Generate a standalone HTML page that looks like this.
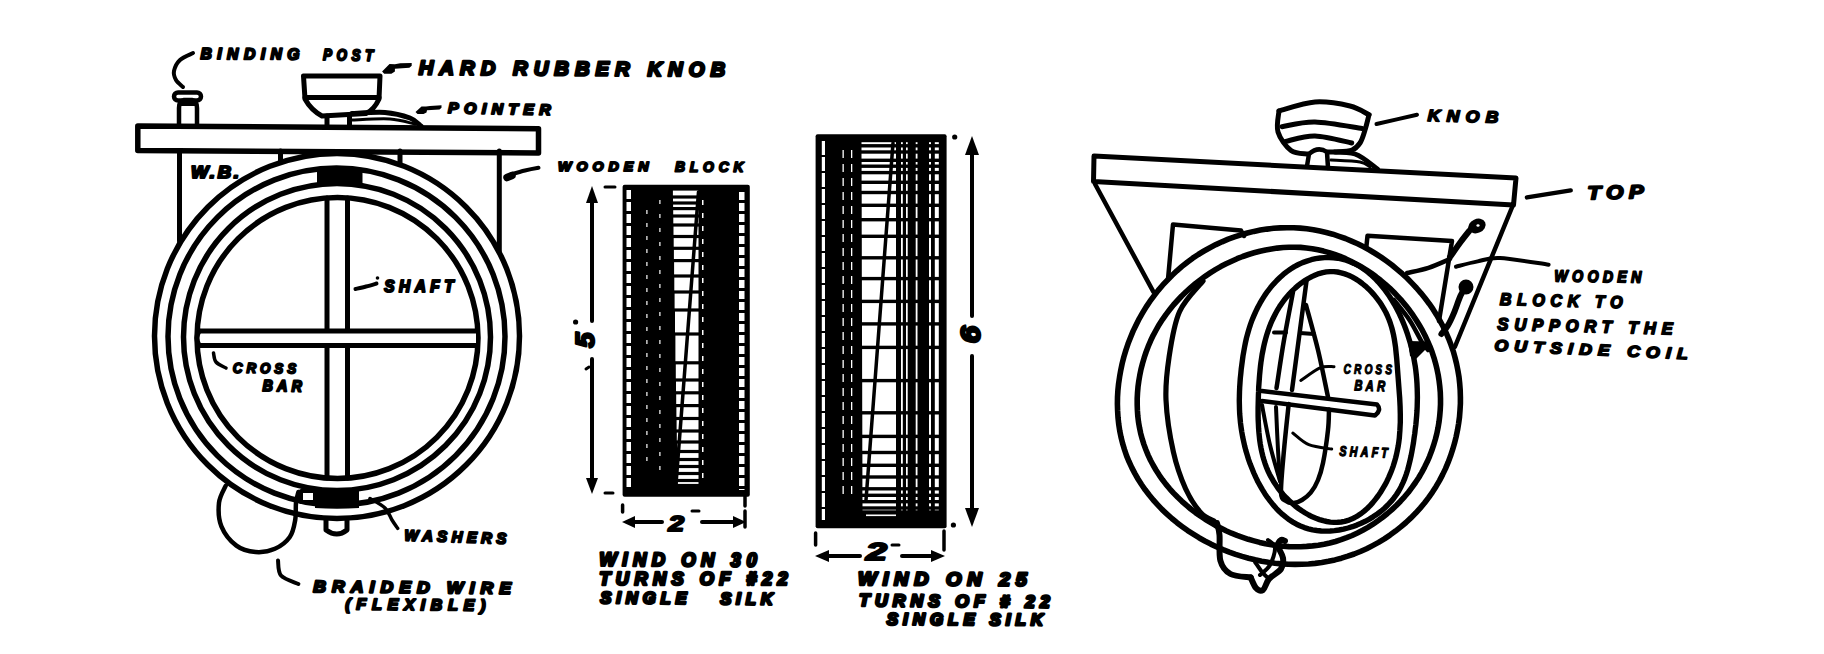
<!DOCTYPE html>
<html><head><meta charset="utf-8"><style>
html,body{margin:0;padding:0;background:#fff;}
svg{display:block;}
text{font-family:"Liberation Sans",sans-serif;font-weight:bold;font-style:italic;fill:#000;stroke:#000;stroke-linejoin:round;}
</style></head><body>
<svg width="1824" height="654" viewBox="0 0 1824 654">
<rect width="1824" height="654" fill="#fff"/>
<g fill="none" stroke="#000" stroke-linecap="round" stroke-linejoin="round">
<path d="M137.8,126 L538.5,128.8 L538.5,153 L137.8,150.6 Z" stroke-width="5.5"/>
<line x1="539.5" y1="130" x2="539.5" y2="152" stroke-width="3"/>
<line x1="179.5" y1="151" x2="179.5" y2="241" stroke-width="5"/>
<line x1="499.3" y1="151" x2="499.3" y2="251" stroke-width="5"/>
<line x1="280.5" y1="151" x2="280.5" y2="162" stroke-width="5"/>
<line x1="400" y1="151" x2="400" y2="163" stroke-width="5"/>
<circle cx="337" cy="336" r="182.5" stroke-width="5.5"/>
<circle cx="336.5" cy="336.5" r="168.5" stroke-width="5.5"/>
<circle cx="337" cy="337" r="153.5" stroke-width="5.5"/>
<circle cx="337.5" cy="338" r="140.5" stroke-width="5.5"/>
<line x1="327" y1="198" x2="327" y2="478" stroke-width="5"/>
<line x1="347.5" y1="198" x2="347.5" y2="478" stroke-width="5"/>
<rect x="199" y="331" width="277" height="14.5" fill="#fff" stroke="none"/>
<line x1="199" y1="331" x2="476" y2="331" stroke-width="5"/>
<line x1="199" y1="345.5" x2="476" y2="345.5" stroke-width="5"/>
<path d="M199,331 Q195,338 199,345.5" stroke-width="5"/>
<path d="M317,168 Q340,165 362.5,168 L362.5,185 Q340,183 317,185 Z" fill="#000" stroke-width="0"/>
<path d="M315,490 Q337,492 359,490 L359,508 Q337,509.5 315,508 Z" fill="#000" stroke-width="0"/>
<rect x="301" y="491" width="14" height="11" stroke-width="4" fill="#fff"/>
<path d="M326,520 L326,530 Q337,538 347,530 L347,520" stroke-width="5"/>
<path d="M225.7,485.7 C224.6,488.6 219.7,496.0 219.0,502.8 C218.3,509.6 218.5,519.2 221.4,526.3 C224.3,533.4 230.7,541.3 236.4,545.6 C242.1,549.9 249.2,551.5 255.6,552.0 C262.0,552.5 269.2,551.3 274.9,548.8 C280.6,546.3 286.4,541.8 289.8,537.0 C293.2,532.2 294.2,525.7 295.2,520.0 C296.2,514.3 295.5,507.5 296.0,502.8 C296.5,498.1 298.0,493.8 298.4,492.0" stroke-width="4.5" fill="none" />
<path d="M278.0,560.5 C278.5,563.0 277.6,571.6 281.0,575.5 C284.4,579.4 295.5,582.6 298.4,584.0" stroke-width="4" fill="none" />
<rect x="174" y="92.5" width="27" height="8" rx="4" stroke-width="4.5"/>
<path d="M179,124 L179,108 Q179,101 184,100 L192,100 Q197,101 197,108 L197,124" stroke-width="4.5"/>
<path d="M180,100 L196,100 L195,106 L181,106 Z" fill="#000" stroke-width="0"/>
<path d="M193.0,53.0 C190.8,54.2 183.2,57.0 180.0,60.0 C176.8,63.0 174.7,67.7 174.0,71.0 C173.3,74.3 174.5,77.3 176.0,80.0 C177.5,82.7 181.8,85.8 183.0,87.0" stroke-width="4" fill="none" />
<path d="M303.5,76 L380,76 L379,99 Q374,110 366,113.5 L322,116 Q311,110 305,99 Z" stroke-width="5"/>
<line x1="305" y1="97.5" x2="379" y2="97.5" stroke-width="5"/>
<path d="M327,116 L327,126 M349.5,116 L349.5,126" stroke-width="5"/>
<path d="M352.0,113.5 C357.5,113.3 375.3,111.8 385.0,112.5 C394.7,113.2 404.0,115.8 410.0,118.0 C416.0,120.2 419.2,124.7 421.0,126.0" stroke-width="5" fill="none" />
<path d="M352.0,120.0 C358.3,119.8 379.5,118.3 390.0,119.0 C400.5,119.7 410.8,123.2 415.0,124.0" stroke-width="3" fill="none" />
<path d="M382.1,71.4 L389.5,64 L394.9,64.2 L400.2,63.2 L411.7,63 L411.7,65.7 L409.4,67.8 L394.9,68.8 L394.9,71.4 L391.4,73.7 L384.2,73.7 Z" fill="#000" stroke-width="0"/>
<path d="M415.5,112 L421.5,106.5 L426,106.6 L430,106 L441.5,105.3 L441.5,107.8 L439.5,109.5 L427,110.3 L426.5,112.5 L423.5,114 L417.5,114 Z" fill="#000" stroke-width="0"/>
<path d="M507,177.5 L512,175.5" stroke-width="7.5"/>
<path d="M511.0,174.5 C513.3,173.8 520.4,171.6 525.0,170.5 C529.6,169.4 536.2,168.2 538.5,167.8" stroke-width="4" fill="none" />
<path d="M355.5,289.0 C357.2,288.6 362.5,287.4 366.0,286.5 C369.5,285.6 374.8,284.0 376.5,283.5" stroke-width="4" fill="none" />
<circle cx="377.5" cy="278" r="1.8" fill="#000" stroke="none"/>
<path d="M213.5,353.0 C213.9,354.5 213.9,359.5 216.0,362.0 C218.1,364.5 224.3,367.0 226.0,368.0" stroke-width="3.5" fill="none" />
<path d="M370.0,498.5 C372.5,500.1 381.3,504.4 385.0,508.0 C388.7,511.6 389.9,516.6 392.0,520.0 C394.1,523.4 396.8,527.0 397.7,528.4" stroke-width="3.5" fill="none" />
<rect x="622.6" y="184.7" width="127.2" height="312" rx="2" fill="#000" stroke="none"/>
<rect x="672.9" y="190.6" width="25.6" height="4.8" fill="#fff" stroke="none"/>
<rect x="673.0" y="198.6" width="25.5" height="2.8" fill="#fff" stroke="none"/>
<rect x="673.1" y="204.6" width="25.4" height="2.4" fill="#fff" stroke="none"/>
<rect x="673.2" y="210.2" width="25.3" height="4.2" fill="#fff" stroke="none"/>
<rect x="673.3" y="217.6" width="25.2" height="5.8" fill="#fff" stroke="none"/>
<rect x="673.5" y="226.6" width="25.0" height="8.3" fill="#fff" stroke="none"/>
<rect x="673.7" y="238.1" width="24.8" height="8.6" fill="#fff" stroke="none"/>
<rect x="673.9" y="249.9" width="24.6" height="9.1" fill="#fff" stroke="none"/>
<rect x="674.1" y="262.2" width="24.4" height="12.2" fill="#fff" stroke="none"/>
<rect x="674.3" y="277.6" width="24.2" height="12.8" fill="#fff" stroke="none"/>
<rect x="674.6" y="293.6" width="23.9" height="14.8" fill="#fff" stroke="none"/>
<rect x="675.0" y="311.6" width="23.5" height="20.8" fill="#fff" stroke="none"/>
<rect x="675.4" y="335.6" width="23.1" height="25.6" fill="#fff" stroke="none"/>
<rect x="675.8" y="364.4" width="22.7" height="14.0" fill="#fff" stroke="none"/>
<rect x="676.0" y="381.6" width="22.5" height="9.6" fill="#fff" stroke="none"/>
<rect x="676.2" y="394.4" width="22.3" height="9.6" fill="#fff" stroke="none"/>
<rect x="676.4" y="407.2" width="22.1" height="9.7" fill="#fff" stroke="none"/>
<rect x="676.6" y="420.1" width="21.9" height="9.3" fill="#fff" stroke="none"/>
<rect x="676.8" y="432.6" width="21.7" height="7.8" fill="#fff" stroke="none"/>
<rect x="677.0" y="443.6" width="21.5" height="6.3" fill="#fff" stroke="none"/>
<rect x="677.1" y="453.1" width="21.4" height="4.8" fill="#fff" stroke="none"/>
<rect x="677.2" y="461.1" width="21.3" height="3.8" fill="#fff" stroke="none"/>
<rect x="677.3" y="468.1" width="21.2" height="3.8" fill="#fff" stroke="none"/>
<rect x="677.5" y="475.1" width="21.0" height="3.8" fill="#fff" stroke="none"/>
<rect x="677.6" y="482.1" width="20.9" height="1.8" fill="#fff" stroke="none"/>
<rect x="626.5" y="190.0" width="4.5" height="9.0" fill="#fff" stroke="none"/>
<rect x="626.5" y="202.0" width="4.5" height="9.0" fill="#fff" stroke="none"/>
<rect x="626.5" y="214.0" width="4.5" height="9.0" fill="#fff" stroke="none"/>
<rect x="626.5" y="226.0" width="4.5" height="9.0" fill="#fff" stroke="none"/>
<rect x="626.5" y="238.0" width="4.5" height="9.0" fill="#fff" stroke="none"/>
<rect x="626.5" y="250.0" width="4.5" height="9.0" fill="#fff" stroke="none"/>
<rect x="626.5" y="262.0" width="4.5" height="9.0" fill="#fff" stroke="none"/>
<rect x="626.5" y="274.0" width="4.5" height="9.0" fill="#fff" stroke="none"/>
<rect x="626.5" y="286.0" width="4.5" height="9.0" fill="#fff" stroke="none"/>
<rect x="626.5" y="298.0" width="4.5" height="9.0" fill="#fff" stroke="none"/>
<rect x="626.5" y="310.0" width="4.5" height="9.0" fill="#fff" stroke="none"/>
<rect x="626.5" y="322.0" width="4.5" height="9.0" fill="#fff" stroke="none"/>
<rect x="626.5" y="334.0" width="4.5" height="9.0" fill="#fff" stroke="none"/>
<rect x="626.5" y="346.0" width="4.5" height="9.0" fill="#fff" stroke="none"/>
<rect x="626.5" y="358.0" width="4.5" height="9.0" fill="#fff" stroke="none"/>
<rect x="626.5" y="370.0" width="4.5" height="9.0" fill="#fff" stroke="none"/>
<rect x="626.5" y="382.0" width="4.5" height="9.0" fill="#fff" stroke="none"/>
<rect x="626.5" y="394.0" width="4.5" height="9.0" fill="#fff" stroke="none"/>
<rect x="626.5" y="406.0" width="4.5" height="9.0" fill="#fff" stroke="none"/>
<rect x="626.5" y="418.0" width="4.5" height="9.0" fill="#fff" stroke="none"/>
<rect x="626.5" y="430.0" width="4.5" height="9.0" fill="#fff" stroke="none"/>
<rect x="626.5" y="442.0" width="4.5" height="9.0" fill="#fff" stroke="none"/>
<rect x="626.5" y="454.0" width="4.5" height="9.0" fill="#fff" stroke="none"/>
<rect x="626.5" y="466.0" width="4.5" height="9.0" fill="#fff" stroke="none"/>
<rect x="626.5" y="478.0" width="4.5" height="9.0" fill="#fff" stroke="none"/>
<rect x="739.0" y="192.0" width="5.5" height="8.0" fill="#fff" stroke="none"/>
<rect x="739.0" y="203.0" width="5.5" height="8.0" fill="#fff" stroke="none"/>
<rect x="739.0" y="214.0" width="5.5" height="8.0" fill="#fff" stroke="none"/>
<rect x="739.0" y="225.0" width="5.5" height="8.0" fill="#fff" stroke="none"/>
<rect x="739.0" y="236.0" width="5.5" height="8.0" fill="#fff" stroke="none"/>
<rect x="739.0" y="247.0" width="5.5" height="8.0" fill="#fff" stroke="none"/>
<rect x="739.0" y="258.0" width="5.5" height="8.0" fill="#fff" stroke="none"/>
<rect x="739.0" y="269.0" width="5.5" height="8.0" fill="#fff" stroke="none"/>
<rect x="739.0" y="280.0" width="5.5" height="8.0" fill="#fff" stroke="none"/>
<rect x="739.0" y="291.0" width="5.5" height="8.0" fill="#fff" stroke="none"/>
<rect x="739.0" y="302.0" width="5.5" height="8.0" fill="#fff" stroke="none"/>
<rect x="739.0" y="313.0" width="5.5" height="8.0" fill="#fff" stroke="none"/>
<rect x="739.0" y="324.0" width="5.5" height="8.0" fill="#fff" stroke="none"/>
<rect x="739.0" y="335.0" width="5.5" height="8.0" fill="#fff" stroke="none"/>
<rect x="739.0" y="346.0" width="5.5" height="8.0" fill="#fff" stroke="none"/>
<rect x="739.0" y="357.0" width="5.5" height="8.0" fill="#fff" stroke="none"/>
<rect x="739.0" y="368.0" width="5.5" height="8.0" fill="#fff" stroke="none"/>
<rect x="739.0" y="379.0" width="5.5" height="8.0" fill="#fff" stroke="none"/>
<rect x="739.0" y="390.0" width="5.5" height="8.0" fill="#fff" stroke="none"/>
<rect x="739.0" y="401.0" width="5.5" height="8.0" fill="#fff" stroke="none"/>
<rect x="739.0" y="412.0" width="5.5" height="8.0" fill="#fff" stroke="none"/>
<rect x="739.0" y="423.0" width="5.5" height="8.0" fill="#fff" stroke="none"/>
<rect x="739.0" y="434.0" width="5.5" height="8.0" fill="#fff" stroke="none"/>
<rect x="739.0" y="445.0" width="5.5" height="8.0" fill="#fff" stroke="none"/>
<rect x="739.0" y="456.0" width="5.5" height="8.0" fill="#fff" stroke="none"/>
<rect x="739.0" y="467.0" width="5.5" height="8.0" fill="#fff" stroke="none"/>
<rect x="739.0" y="478.0" width="5.5" height="8.0" fill="#fff" stroke="none"/>
<rect x="739.0" y="489.0" width="5.5" height="1.0" fill="#fff" stroke="none"/>
<rect x="646.3" y="210.0" width="1.2" height="4.0" fill="#fff" stroke="none"/>
<rect x="646.3" y="223.0" width="1.2" height="4.0" fill="#fff" stroke="none"/>
<rect x="646.3" y="236.0" width="1.2" height="4.0" fill="#fff" stroke="none"/>
<rect x="646.3" y="249.0" width="1.2" height="4.0" fill="#fff" stroke="none"/>
<rect x="646.3" y="262.0" width="1.2" height="4.0" fill="#fff" stroke="none"/>
<rect x="646.3" y="275.0" width="1.2" height="4.0" fill="#fff" stroke="none"/>
<rect x="646.3" y="288.0" width="1.2" height="4.0" fill="#fff" stroke="none"/>
<rect x="646.3" y="301.0" width="1.2" height="4.0" fill="#fff" stroke="none"/>
<rect x="646.3" y="314.0" width="1.2" height="4.0" fill="#fff" stroke="none"/>
<rect x="646.3" y="327.0" width="1.2" height="4.0" fill="#fff" stroke="none"/>
<rect x="646.3" y="340.0" width="1.2" height="4.0" fill="#fff" stroke="none"/>
<rect x="646.3" y="353.0" width="1.2" height="4.0" fill="#fff" stroke="none"/>
<rect x="646.3" y="366.0" width="1.2" height="4.0" fill="#fff" stroke="none"/>
<rect x="646.3" y="379.0" width="1.2" height="4.0" fill="#fff" stroke="none"/>
<rect x="646.3" y="392.0" width="1.2" height="4.0" fill="#fff" stroke="none"/>
<rect x="646.3" y="405.0" width="1.2" height="4.0" fill="#fff" stroke="none"/>
<rect x="646.3" y="418.0" width="1.2" height="4.0" fill="#fff" stroke="none"/>
<rect x="646.3" y="431.0" width="1.2" height="4.0" fill="#fff" stroke="none"/>
<rect x="646.3" y="444.0" width="1.2" height="4.0" fill="#fff" stroke="none"/>
<rect x="646.3" y="457.0" width="1.2" height="4.0" fill="#fff" stroke="none"/>
<rect x="659.3" y="200.0" width="1.2" height="4.0" fill="#fff" stroke="none"/>
<rect x="659.3" y="214.0" width="1.2" height="4.0" fill="#fff" stroke="none"/>
<rect x="659.3" y="228.0" width="1.2" height="4.0" fill="#fff" stroke="none"/>
<rect x="659.3" y="242.0" width="1.2" height="4.0" fill="#fff" stroke="none"/>
<rect x="659.3" y="256.0" width="1.2" height="4.0" fill="#fff" stroke="none"/>
<rect x="659.3" y="270.0" width="1.2" height="4.0" fill="#fff" stroke="none"/>
<rect x="659.3" y="284.0" width="1.2" height="4.0" fill="#fff" stroke="none"/>
<rect x="659.3" y="298.0" width="1.2" height="4.0" fill="#fff" stroke="none"/>
<rect x="659.3" y="312.0" width="1.2" height="4.0" fill="#fff" stroke="none"/>
<rect x="659.3" y="326.0" width="1.2" height="4.0" fill="#fff" stroke="none"/>
<rect x="659.3" y="340.0" width="1.2" height="4.0" fill="#fff" stroke="none"/>
<rect x="659.3" y="354.0" width="1.2" height="4.0" fill="#fff" stroke="none"/>
<rect x="659.3" y="368.0" width="1.2" height="4.0" fill="#fff" stroke="none"/>
<rect x="659.3" y="382.0" width="1.2" height="4.0" fill="#fff" stroke="none"/>
<rect x="659.3" y="396.0" width="1.2" height="4.0" fill="#fff" stroke="none"/>
<rect x="659.3" y="410.0" width="1.2" height="4.0" fill="#fff" stroke="none"/>
<rect x="659.3" y="424.0" width="1.2" height="4.0" fill="#fff" stroke="none"/>
<rect x="659.3" y="438.0" width="1.2" height="4.0" fill="#fff" stroke="none"/>
<rect x="659.3" y="452.0" width="1.2" height="4.0" fill="#fff" stroke="none"/>
<rect x="659.3" y="466.0" width="1.2" height="4.0" fill="#fff" stroke="none"/>
<rect x="702.0" y="200.0" width="1.5" height="5.0" fill="#fff" stroke="none"/>
<rect x="702.0" y="213.0" width="1.5" height="5.0" fill="#fff" stroke="none"/>
<rect x="702.0" y="226.0" width="1.5" height="5.0" fill="#fff" stroke="none"/>
<rect x="702.0" y="239.0" width="1.5" height="5.0" fill="#fff" stroke="none"/>
<rect x="702.0" y="252.0" width="1.5" height="5.0" fill="#fff" stroke="none"/>
<rect x="702.0" y="265.0" width="1.5" height="5.0" fill="#fff" stroke="none"/>
<rect x="702.0" y="278.0" width="1.5" height="5.0" fill="#fff" stroke="none"/>
<rect x="702.0" y="291.0" width="1.5" height="5.0" fill="#fff" stroke="none"/>
<rect x="702.0" y="304.0" width="1.5" height="5.0" fill="#fff" stroke="none"/>
<rect x="702.0" y="317.0" width="1.5" height="5.0" fill="#fff" stroke="none"/>
<rect x="702.0" y="330.0" width="1.5" height="5.0" fill="#fff" stroke="none"/>
<rect x="702.0" y="343.0" width="1.5" height="5.0" fill="#fff" stroke="none"/>
<rect x="702.0" y="356.0" width="1.5" height="5.0" fill="#fff" stroke="none"/>
<rect x="702.0" y="369.0" width="1.5" height="5.0" fill="#fff" stroke="none"/>
<rect x="702.0" y="382.0" width="1.5" height="5.0" fill="#fff" stroke="none"/>
<rect x="702.0" y="395.0" width="1.5" height="5.0" fill="#fff" stroke="none"/>
<rect x="702.0" y="408.0" width="1.5" height="5.0" fill="#fff" stroke="none"/>
<rect x="702.0" y="421.0" width="1.5" height="5.0" fill="#fff" stroke="none"/>
<rect x="702.0" y="434.0" width="1.5" height="5.0" fill="#fff" stroke="none"/>
<rect x="702.0" y="447.0" width="1.5" height="5.0" fill="#fff" stroke="none"/>
<rect x="702.0" y="460.0" width="1.5" height="5.0" fill="#fff" stroke="none"/>
<rect x="702.0" y="473.0" width="1.5" height="5.0" fill="#fff" stroke="none"/>
<line x1="698.5" y1="192" x2="676" y2="484" stroke-width="3.5"/>
<rect x="815.6" y="134.3" width="131" height="394" rx="2" fill="#000" stroke="none"/>
<rect x="861.5" y="142.2" width="34.5" height="1.9" fill="#fff" stroke="none"/>
<rect x="901.0" y="142.2" width="1.8" height="1.9" fill="#fff" stroke="none"/>
<rect x="906.0" y="142.2" width="1.7" height="1.9" fill="#fff" stroke="none"/>
<rect x="915.7" y="142.2" width="1.8" height="1.9" fill="#fff" stroke="none"/>
<rect x="929.0" y="142.2" width="2.0" height="1.9" fill="#fff" stroke="none"/>
<rect x="934.8" y="142.2" width="4.0" height="1.9" fill="#fff" stroke="none"/>
<rect x="861.5" y="147.5" width="34.5" height="2.8" fill="#fff" stroke="none"/>
<rect x="901.0" y="147.5" width="1.8" height="2.8" fill="#fff" stroke="none"/>
<rect x="906.0" y="147.5" width="1.7" height="2.8" fill="#fff" stroke="none"/>
<rect x="915.7" y="147.5" width="1.8" height="2.8" fill="#fff" stroke="none"/>
<rect x="929.0" y="147.5" width="2.0" height="2.8" fill="#fff" stroke="none"/>
<rect x="934.8" y="147.5" width="4.0" height="2.8" fill="#fff" stroke="none"/>
<rect x="861.5" y="153.7" width="34.5" height="4.9" fill="#fff" stroke="none"/>
<rect x="901.0" y="153.7" width="1.8" height="4.9" fill="#fff" stroke="none"/>
<rect x="906.0" y="153.7" width="1.7" height="4.9" fill="#fff" stroke="none"/>
<rect x="915.7" y="153.7" width="1.8" height="4.9" fill="#fff" stroke="none"/>
<rect x="929.0" y="153.7" width="2.0" height="4.9" fill="#fff" stroke="none"/>
<rect x="934.8" y="153.7" width="4.0" height="4.9" fill="#fff" stroke="none"/>
<rect x="861.6" y="162.0" width="34.4" height="2.5" fill="#fff" stroke="none"/>
<rect x="901.0" y="162.0" width="1.8" height="2.5" fill="#fff" stroke="none"/>
<rect x="906.0" y="162.0" width="1.7" height="2.5" fill="#fff" stroke="none"/>
<rect x="915.7" y="162.0" width="1.8" height="2.5" fill="#fff" stroke="none"/>
<rect x="929.0" y="162.0" width="2.0" height="2.5" fill="#fff" stroke="none"/>
<rect x="934.8" y="162.0" width="4.0" height="2.5" fill="#fff" stroke="none"/>
<rect x="861.6" y="167.9" width="34.4" height="3.0" fill="#fff" stroke="none"/>
<rect x="901.0" y="167.9" width="1.8" height="3.0" fill="#fff" stroke="none"/>
<rect x="906.0" y="167.9" width="1.7" height="3.0" fill="#fff" stroke="none"/>
<rect x="915.7" y="167.9" width="1.8" height="3.0" fill="#fff" stroke="none"/>
<rect x="929.0" y="167.9" width="2.0" height="3.0" fill="#fff" stroke="none"/>
<rect x="934.8" y="167.9" width="4.0" height="3.0" fill="#fff" stroke="none"/>
<rect x="861.6" y="174.3" width="34.4" height="6.3" fill="#fff" stroke="none"/>
<rect x="901.0" y="174.3" width="1.8" height="6.3" fill="#fff" stroke="none"/>
<rect x="906.0" y="174.3" width="1.7" height="6.3" fill="#fff" stroke="none"/>
<rect x="915.7" y="174.3" width="1.8" height="6.3" fill="#fff" stroke="none"/>
<rect x="929.0" y="174.3" width="2.0" height="6.3" fill="#fff" stroke="none"/>
<rect x="934.8" y="174.3" width="4.0" height="6.3" fill="#fff" stroke="none"/>
<rect x="861.6" y="184.0" width="34.4" height="6.8" fill="#fff" stroke="none"/>
<rect x="901.0" y="184.0" width="1.8" height="6.8" fill="#fff" stroke="none"/>
<rect x="906.0" y="184.0" width="1.7" height="6.8" fill="#fff" stroke="none"/>
<rect x="915.7" y="184.0" width="1.8" height="6.8" fill="#fff" stroke="none"/>
<rect x="929.0" y="184.0" width="2.0" height="6.8" fill="#fff" stroke="none"/>
<rect x="934.8" y="184.0" width="4.0" height="6.8" fill="#fff" stroke="none"/>
<rect x="861.7" y="194.2" width="34.3" height="9.4" fill="#fff" stroke="none"/>
<rect x="901.0" y="194.2" width="1.8" height="9.4" fill="#fff" stroke="none"/>
<rect x="906.0" y="194.2" width="1.7" height="9.4" fill="#fff" stroke="none"/>
<rect x="915.7" y="194.2" width="1.8" height="9.4" fill="#fff" stroke="none"/>
<rect x="929.0" y="194.2" width="2.0" height="9.4" fill="#fff" stroke="none"/>
<rect x="934.8" y="194.2" width="4.0" height="9.4" fill="#fff" stroke="none"/>
<rect x="861.7" y="207.0" width="34.3" height="11.0" fill="#fff" stroke="none"/>
<rect x="901.0" y="207.0" width="1.8" height="11.0" fill="#fff" stroke="none"/>
<rect x="906.0" y="207.0" width="1.7" height="11.0" fill="#fff" stroke="none"/>
<rect x="915.7" y="207.0" width="1.8" height="11.0" fill="#fff" stroke="none"/>
<rect x="929.0" y="207.0" width="2.0" height="11.0" fill="#fff" stroke="none"/>
<rect x="934.8" y="207.0" width="4.0" height="11.0" fill="#fff" stroke="none"/>
<rect x="861.7" y="221.4" width="34.3" height="13.2" fill="#fff" stroke="none"/>
<rect x="901.0" y="221.4" width="1.8" height="13.2" fill="#fff" stroke="none"/>
<rect x="906.0" y="221.4" width="1.7" height="13.2" fill="#fff" stroke="none"/>
<rect x="915.7" y="221.4" width="1.8" height="13.2" fill="#fff" stroke="none"/>
<rect x="929.0" y="221.4" width="2.0" height="13.2" fill="#fff" stroke="none"/>
<rect x="934.8" y="221.4" width="4.0" height="13.2" fill="#fff" stroke="none"/>
<rect x="861.8" y="238.0" width="34.2" height="18.1" fill="#fff" stroke="none"/>
<rect x="901.0" y="238.0" width="1.8" height="18.1" fill="#fff" stroke="none"/>
<rect x="906.0" y="238.0" width="1.7" height="18.1" fill="#fff" stroke="none"/>
<rect x="915.7" y="238.0" width="1.8" height="18.1" fill="#fff" stroke="none"/>
<rect x="929.0" y="238.0" width="2.0" height="18.1" fill="#fff" stroke="none"/>
<rect x="934.8" y="238.0" width="4.0" height="18.1" fill="#fff" stroke="none"/>
<rect x="861.8" y="259.5" width="34.2" height="17.4" fill="#fff" stroke="none"/>
<rect x="901.0" y="259.5" width="1.8" height="17.4" fill="#fff" stroke="none"/>
<rect x="906.0" y="259.5" width="1.7" height="17.4" fill="#fff" stroke="none"/>
<rect x="915.7" y="259.5" width="1.8" height="17.4" fill="#fff" stroke="none"/>
<rect x="929.0" y="259.5" width="2.0" height="17.4" fill="#fff" stroke="none"/>
<rect x="934.8" y="259.5" width="4.0" height="17.4" fill="#fff" stroke="none"/>
<rect x="861.9" y="280.3" width="34.1" height="19.4" fill="#fff" stroke="none"/>
<rect x="901.0" y="280.3" width="1.8" height="19.4" fill="#fff" stroke="none"/>
<rect x="906.0" y="280.3" width="1.7" height="19.4" fill="#fff" stroke="none"/>
<rect x="915.7" y="280.3" width="1.8" height="19.4" fill="#fff" stroke="none"/>
<rect x="929.0" y="280.3" width="2.0" height="19.4" fill="#fff" stroke="none"/>
<rect x="934.8" y="280.3" width="4.0" height="19.4" fill="#fff" stroke="none"/>
<rect x="862.0" y="303.1" width="34.0" height="19.1" fill="#fff" stroke="none"/>
<rect x="901.0" y="303.1" width="1.8" height="19.1" fill="#fff" stroke="none"/>
<rect x="906.0" y="303.1" width="1.7" height="19.1" fill="#fff" stroke="none"/>
<rect x="915.7" y="303.1" width="1.8" height="19.1" fill="#fff" stroke="none"/>
<rect x="929.0" y="303.1" width="2.0" height="19.1" fill="#fff" stroke="none"/>
<rect x="934.8" y="303.1" width="4.0" height="19.1" fill="#fff" stroke="none"/>
<rect x="862.0" y="325.6" width="34.0" height="20.1" fill="#fff" stroke="none"/>
<rect x="901.0" y="325.6" width="1.8" height="20.1" fill="#fff" stroke="none"/>
<rect x="906.0" y="325.6" width="1.7" height="20.1" fill="#fff" stroke="none"/>
<rect x="915.7" y="325.6" width="1.8" height="20.1" fill="#fff" stroke="none"/>
<rect x="929.0" y="325.6" width="2.0" height="20.1" fill="#fff" stroke="none"/>
<rect x="934.8" y="325.6" width="4.0" height="20.1" fill="#fff" stroke="none"/>
<rect x="862.1" y="349.1" width="33.9" height="29.8" fill="#fff" stroke="none"/>
<rect x="901.0" y="349.1" width="1.8" height="29.8" fill="#fff" stroke="none"/>
<rect x="906.0" y="349.1" width="1.7" height="29.8" fill="#fff" stroke="none"/>
<rect x="915.7" y="349.1" width="1.8" height="29.8" fill="#fff" stroke="none"/>
<rect x="929.0" y="349.1" width="2.0" height="29.8" fill="#fff" stroke="none"/>
<rect x="934.8" y="349.1" width="4.0" height="29.8" fill="#fff" stroke="none"/>
<rect x="862.2" y="382.3" width="33.8" height="28.8" fill="#fff" stroke="none"/>
<rect x="901.0" y="382.3" width="1.8" height="28.8" fill="#fff" stroke="none"/>
<rect x="906.0" y="382.3" width="1.7" height="28.8" fill="#fff" stroke="none"/>
<rect x="915.7" y="382.3" width="1.8" height="28.8" fill="#fff" stroke="none"/>
<rect x="929.0" y="382.3" width="2.0" height="28.8" fill="#fff" stroke="none"/>
<rect x="934.8" y="382.3" width="4.0" height="28.8" fill="#fff" stroke="none"/>
<rect x="862.3" y="414.5" width="33.7" height="20.2" fill="#fff" stroke="none"/>
<rect x="901.0" y="414.5" width="1.8" height="20.2" fill="#fff" stroke="none"/>
<rect x="906.0" y="414.5" width="1.7" height="20.2" fill="#fff" stroke="none"/>
<rect x="915.7" y="414.5" width="1.8" height="20.2" fill="#fff" stroke="none"/>
<rect x="929.0" y="414.5" width="2.0" height="20.2" fill="#fff" stroke="none"/>
<rect x="934.8" y="414.5" width="4.0" height="20.2" fill="#fff" stroke="none"/>
<rect x="862.3" y="438.1" width="33.7" height="12.7" fill="#fff" stroke="none"/>
<rect x="901.0" y="438.1" width="1.8" height="12.7" fill="#fff" stroke="none"/>
<rect x="906.0" y="438.1" width="1.7" height="12.7" fill="#fff" stroke="none"/>
<rect x="915.7" y="438.1" width="1.8" height="12.7" fill="#fff" stroke="none"/>
<rect x="929.0" y="438.1" width="2.0" height="12.7" fill="#fff" stroke="none"/>
<rect x="934.8" y="438.1" width="4.0" height="12.7" fill="#fff" stroke="none"/>
<rect x="862.4" y="454.2" width="33.6" height="9.4" fill="#fff" stroke="none"/>
<rect x="901.0" y="454.2" width="1.8" height="9.4" fill="#fff" stroke="none"/>
<rect x="906.0" y="454.2" width="1.7" height="9.4" fill="#fff" stroke="none"/>
<rect x="915.7" y="454.2" width="1.8" height="9.4" fill="#fff" stroke="none"/>
<rect x="929.0" y="454.2" width="2.0" height="9.4" fill="#fff" stroke="none"/>
<rect x="934.8" y="454.2" width="4.0" height="9.4" fill="#fff" stroke="none"/>
<rect x="862.4" y="467.0" width="33.6" height="8.3" fill="#fff" stroke="none"/>
<rect x="901.0" y="467.0" width="1.8" height="8.3" fill="#fff" stroke="none"/>
<rect x="906.0" y="467.0" width="1.7" height="8.3" fill="#fff" stroke="none"/>
<rect x="915.7" y="467.0" width="1.8" height="8.3" fill="#fff" stroke="none"/>
<rect x="929.0" y="467.0" width="2.0" height="8.3" fill="#fff" stroke="none"/>
<rect x="934.8" y="467.0" width="4.0" height="8.3" fill="#fff" stroke="none"/>
<rect x="862.4" y="478.7" width="33.6" height="8.4" fill="#fff" stroke="none"/>
<rect x="901.0" y="478.7" width="1.8" height="8.4" fill="#fff" stroke="none"/>
<rect x="906.0" y="478.7" width="1.7" height="8.4" fill="#fff" stroke="none"/>
<rect x="915.7" y="478.7" width="1.8" height="8.4" fill="#fff" stroke="none"/>
<rect x="929.0" y="478.7" width="2.0" height="8.4" fill="#fff" stroke="none"/>
<rect x="934.8" y="478.7" width="4.0" height="8.4" fill="#fff" stroke="none"/>
<rect x="862.4" y="490.5" width="33.6" height="3.1" fill="#fff" stroke="none"/>
<rect x="901.0" y="490.5" width="1.8" height="3.1" fill="#fff" stroke="none"/>
<rect x="906.0" y="490.5" width="1.7" height="3.1" fill="#fff" stroke="none"/>
<rect x="915.7" y="490.5" width="1.8" height="3.1" fill="#fff" stroke="none"/>
<rect x="929.0" y="490.5" width="2.0" height="3.1" fill="#fff" stroke="none"/>
<rect x="934.8" y="490.5" width="4.0" height="3.1" fill="#fff" stroke="none"/>
<rect x="862.5" y="497.0" width="33.5" height="3.0" fill="#fff" stroke="none"/>
<rect x="901.0" y="497.0" width="1.8" height="3.0" fill="#fff" stroke="none"/>
<rect x="906.0" y="497.0" width="1.7" height="3.0" fill="#fff" stroke="none"/>
<rect x="915.7" y="497.0" width="1.8" height="3.0" fill="#fff" stroke="none"/>
<rect x="929.0" y="497.0" width="2.0" height="3.0" fill="#fff" stroke="none"/>
<rect x="934.8" y="497.0" width="4.0" height="3.0" fill="#fff" stroke="none"/>
<rect x="862.5" y="503.4" width="33.5" height="2.9" fill="#fff" stroke="none"/>
<rect x="901.0" y="503.4" width="1.8" height="2.9" fill="#fff" stroke="none"/>
<rect x="906.0" y="503.4" width="1.7" height="2.9" fill="#fff" stroke="none"/>
<rect x="915.7" y="503.4" width="1.8" height="2.9" fill="#fff" stroke="none"/>
<rect x="929.0" y="503.4" width="2.0" height="2.9" fill="#fff" stroke="none"/>
<rect x="934.8" y="503.4" width="4.0" height="2.9" fill="#fff" stroke="none"/>
<rect x="862.5" y="509.7" width="33.5" height="0.6" fill="#fff" stroke="none"/>
<rect x="901.0" y="509.7" width="1.8" height="0.6" fill="#fff" stroke="none"/>
<rect x="906.0" y="509.7" width="1.7" height="0.6" fill="#fff" stroke="none"/>
<rect x="915.7" y="509.7" width="1.8" height="0.6" fill="#fff" stroke="none"/>
<rect x="929.0" y="509.7" width="2.0" height="0.6" fill="#fff" stroke="none"/>
<rect x="934.8" y="509.7" width="4.0" height="0.6" fill="#fff" stroke="none"/>
<rect x="821.8" y="141.0" width="3.2" height="14.0" fill="#fff" stroke="none"/>
<rect x="821.8" y="157.0" width="3.2" height="14.0" fill="#fff" stroke="none"/>
<rect x="821.8" y="173.0" width="3.2" height="14.0" fill="#fff" stroke="none"/>
<rect x="821.8" y="189.0" width="3.2" height="14.0" fill="#fff" stroke="none"/>
<rect x="821.8" y="205.0" width="3.2" height="14.0" fill="#fff" stroke="none"/>
<rect x="821.8" y="221.0" width="3.2" height="14.0" fill="#fff" stroke="none"/>
<rect x="821.8" y="237.0" width="3.2" height="14.0" fill="#fff" stroke="none"/>
<rect x="821.8" y="253.0" width="3.2" height="14.0" fill="#fff" stroke="none"/>
<rect x="821.8" y="269.0" width="3.2" height="14.0" fill="#fff" stroke="none"/>
<rect x="821.8" y="285.0" width="3.2" height="14.0" fill="#fff" stroke="none"/>
<rect x="821.8" y="301.0" width="3.2" height="14.0" fill="#fff" stroke="none"/>
<rect x="821.8" y="317.0" width="3.2" height="14.0" fill="#fff" stroke="none"/>
<rect x="821.8" y="333.0" width="3.2" height="14.0" fill="#fff" stroke="none"/>
<rect x="821.8" y="349.0" width="3.2" height="14.0" fill="#fff" stroke="none"/>
<rect x="821.8" y="365.0" width="3.2" height="14.0" fill="#fff" stroke="none"/>
<rect x="821.8" y="381.0" width="3.2" height="14.0" fill="#fff" stroke="none"/>
<rect x="821.8" y="397.0" width="3.2" height="14.0" fill="#fff" stroke="none"/>
<rect x="821.8" y="413.0" width="3.2" height="14.0" fill="#fff" stroke="none"/>
<rect x="821.8" y="429.0" width="3.2" height="14.0" fill="#fff" stroke="none"/>
<rect x="821.8" y="445.0" width="3.2" height="14.0" fill="#fff" stroke="none"/>
<rect x="821.8" y="461.0" width="3.2" height="14.0" fill="#fff" stroke="none"/>
<rect x="821.8" y="477.0" width="3.2" height="14.0" fill="#fff" stroke="none"/>
<rect x="821.8" y="493.0" width="3.2" height="14.0" fill="#fff" stroke="none"/>
<rect x="821.8" y="509.0" width="3.2" height="11.0" fill="#fff" stroke="none"/>
<rect x="842.5" y="150.0" width="1.3" height="8.0" fill="#fff" stroke="none"/>
<rect x="842.5" y="164.0" width="1.3" height="8.0" fill="#fff" stroke="none"/>
<rect x="842.5" y="178.0" width="1.3" height="8.0" fill="#fff" stroke="none"/>
<rect x="842.5" y="192.0" width="1.3" height="8.0" fill="#fff" stroke="none"/>
<rect x="842.5" y="206.0" width="1.3" height="8.0" fill="#fff" stroke="none"/>
<rect x="842.5" y="220.0" width="1.3" height="8.0" fill="#fff" stroke="none"/>
<rect x="842.5" y="234.0" width="1.3" height="8.0" fill="#fff" stroke="none"/>
<rect x="842.5" y="248.0" width="1.3" height="8.0" fill="#fff" stroke="none"/>
<rect x="842.5" y="262.0" width="1.3" height="8.0" fill="#fff" stroke="none"/>
<rect x="842.5" y="276.0" width="1.3" height="8.0" fill="#fff" stroke="none"/>
<rect x="842.5" y="290.0" width="1.3" height="8.0" fill="#fff" stroke="none"/>
<rect x="842.5" y="304.0" width="1.3" height="8.0" fill="#fff" stroke="none"/>
<rect x="842.5" y="318.0" width="1.3" height="8.0" fill="#fff" stroke="none"/>
<rect x="842.5" y="332.0" width="1.3" height="8.0" fill="#fff" stroke="none"/>
<rect x="842.5" y="346.0" width="1.3" height="8.0" fill="#fff" stroke="none"/>
<rect x="842.5" y="360.0" width="1.3" height="8.0" fill="#fff" stroke="none"/>
<rect x="842.5" y="374.0" width="1.3" height="8.0" fill="#fff" stroke="none"/>
<rect x="842.5" y="388.0" width="1.3" height="8.0" fill="#fff" stroke="none"/>
<rect x="842.5" y="402.0" width="1.3" height="8.0" fill="#fff" stroke="none"/>
<rect x="842.5" y="416.0" width="1.3" height="8.0" fill="#fff" stroke="none"/>
<rect x="842.5" y="430.0" width="1.3" height="8.0" fill="#fff" stroke="none"/>
<rect x="842.5" y="444.0" width="1.3" height="8.0" fill="#fff" stroke="none"/>
<rect x="842.5" y="458.0" width="1.3" height="8.0" fill="#fff" stroke="none"/>
<rect x="842.5" y="472.0" width="1.3" height="8.0" fill="#fff" stroke="none"/>
<rect x="842.5" y="486.0" width="1.3" height="8.0" fill="#fff" stroke="none"/>
<rect x="851.0" y="150.0" width="1.3" height="8.0" fill="#fff" stroke="none"/>
<rect x="851.0" y="164.0" width="1.3" height="8.0" fill="#fff" stroke="none"/>
<rect x="851.0" y="178.0" width="1.3" height="8.0" fill="#fff" stroke="none"/>
<rect x="851.0" y="192.0" width="1.3" height="8.0" fill="#fff" stroke="none"/>
<rect x="851.0" y="206.0" width="1.3" height="8.0" fill="#fff" stroke="none"/>
<rect x="851.0" y="220.0" width="1.3" height="8.0" fill="#fff" stroke="none"/>
<rect x="851.0" y="234.0" width="1.3" height="8.0" fill="#fff" stroke="none"/>
<rect x="851.0" y="248.0" width="1.3" height="8.0" fill="#fff" stroke="none"/>
<rect x="851.0" y="262.0" width="1.3" height="8.0" fill="#fff" stroke="none"/>
<rect x="851.0" y="276.0" width="1.3" height="8.0" fill="#fff" stroke="none"/>
<rect x="851.0" y="290.0" width="1.3" height="8.0" fill="#fff" stroke="none"/>
<rect x="851.0" y="304.0" width="1.3" height="8.0" fill="#fff" stroke="none"/>
<rect x="851.0" y="318.0" width="1.3" height="8.0" fill="#fff" stroke="none"/>
<rect x="851.0" y="332.0" width="1.3" height="8.0" fill="#fff" stroke="none"/>
<rect x="851.0" y="346.0" width="1.3" height="8.0" fill="#fff" stroke="none"/>
<rect x="851.0" y="360.0" width="1.3" height="8.0" fill="#fff" stroke="none"/>
<rect x="851.0" y="374.0" width="1.3" height="8.0" fill="#fff" stroke="none"/>
<rect x="851.0" y="388.0" width="1.3" height="8.0" fill="#fff" stroke="none"/>
<rect x="851.0" y="402.0" width="1.3" height="8.0" fill="#fff" stroke="none"/>
<rect x="851.0" y="416.0" width="1.3" height="8.0" fill="#fff" stroke="none"/>
<rect x="851.0" y="430.0" width="1.3" height="8.0" fill="#fff" stroke="none"/>
<rect x="851.0" y="444.0" width="1.3" height="8.0" fill="#fff" stroke="none"/>
<rect x="851.0" y="458.0" width="1.3" height="8.0" fill="#fff" stroke="none"/>
<rect x="851.0" y="472.0" width="1.3" height="8.0" fill="#fff" stroke="none"/>
<rect x="851.0" y="486.0" width="1.3" height="8.0" fill="#fff" stroke="none"/>
<line x1="893" y1="143" x2="866" y2="500" stroke-width="3.5"/>
<rect x="866.0" y="514.5" width="30.0" height="1.6" fill="#fff" stroke="none"/>
<line x1="592" y1="197" x2="592" y2="321" stroke-width="4"/>
<line x1="592" y1="359" x2="592" y2="484" stroke-width="4"/>
<path d="M586,203 L592,186 L598,203 Z" fill="#000" stroke-width="0"/>
<path d="M586,478 L592,494 L598,478 Z" fill="#000" stroke-width="0"/>
<line x1="605" y1="187" x2="615" y2="187" stroke-width="3"/>
<line x1="605" y1="493" x2="613" y2="493" stroke-width="3"/>
<line x1="586" y1="369" x2="589" y2="367" stroke-width="3"/>
<circle cx="575.6" cy="322" r="2.6" fill="#000" stroke="none"/>
<line x1="622.6" y1="505" x2="622.6" y2="512" stroke-width="3.5"/>
<line x1="745" y1="492" x2="745" y2="506" stroke-width="3.5"/>
<line x1="745" y1="511" x2="745" y2="527" stroke-width="3.5"/>
<line x1="632" y1="522" x2="662" y2="522" stroke-width="4"/>
<line x1="702" y1="522" x2="736" y2="522" stroke-width="4"/>
<path d="M622,522 L635,516 L635,528 Z" fill="#000" stroke-width="0"/>
<path d="M746,522 L733,516 L733,528 Z" fill="#000" stroke-width="0"/>
<line x1="692" y1="511" x2="699" y2="511" stroke-width="3"/>
<line x1="972" y1="152" x2="972" y2="316" stroke-width="4"/>
<line x1="972" y1="356" x2="972" y2="510" stroke-width="4"/>
<path d="M965,155 L972,136 L979,155 Z" fill="#000" stroke-width="0"/>
<path d="M965,508 L972,527 L979,508 Z" fill="#000" stroke-width="0"/>
<circle cx="954.7" cy="137" r="2.6" fill="#000" stroke="none"/>
<circle cx="953.4" cy="525" r="2.6" fill="#000" stroke="none"/>
<line x1="815.6" y1="533" x2="815.6" y2="545" stroke-width="3.5"/>
<line x1="944" y1="531" x2="944" y2="550" stroke-width="3.5"/>
<line x1="824" y1="556" x2="860" y2="556" stroke-width="4"/>
<line x1="902" y1="556" x2="937" y2="556" stroke-width="4"/>
<path d="M815,556 L829,550 L829,562 Z" fill="#000" stroke-width="0"/>
<path d="M945,556 L931,550 L931,562 Z" fill="#000" stroke-width="0"/>
<line x1="892" y1="545" x2="899" y2="545" stroke-width="3"/>
<text x="200.5" y="59.0" font-size="15.9" letter-spacing="0.35em" textLength="104.4" lengthAdjust="spacingAndGlyphs" stroke-width="2.09" transform="rotate(0.28 199.5 60.0)">BINDING</text>
<text x="323.0" y="60.0" font-size="15.9" letter-spacing="0.35em" textLength="54.6" lengthAdjust="spacingAndGlyphs" stroke-width="2.09" transform="rotate(1.08 322.0 61.0)">POST</text>
<text x="418.7" y="74.5" font-size="20.0" letter-spacing="0.3em" textLength="312.5" lengthAdjust="spacingAndGlyphs" stroke-width="2.47" transform="rotate(0.35 417.5 75.7)">HARD RUBBER KNOB</text>
<text x="448.0" y="113.1" font-size="15.0" letter-spacing="0.35em" textLength="108.1" lengthAdjust="spacingAndGlyphs" stroke-width="2.09" transform="rotate(1.09 447.0 114.1)">POINTER</text>
<text x="558.0" y="171.1" font-size="13.4" letter-spacing="0.35em" textLength="95.5" lengthAdjust="spacingAndGlyphs" stroke-width="1.90">WOODEN</text>
<text x="675.0" y="171.6" font-size="14.1" letter-spacing="0.35em" textLength="73.3" lengthAdjust="spacingAndGlyphs" stroke-width="1.90" transform="rotate(0.24 674.0 172.5)">BLOCK</text>
<text x="191.0" y="177.8" font-size="15.9" letter-spacing="0.15em" textLength="50.6" lengthAdjust="spacingAndGlyphs" stroke-width="2.09">W.B.</text>
<text x="384.2" y="291.5" font-size="15.9" letter-spacing="0.3em" textLength="74.0" lengthAdjust="spacingAndGlyphs" stroke-width="2.09">SHAFT</text>
<text x="232.8" y="372.7" font-size="14.1" letter-spacing="0.3em" textLength="67.3" lengthAdjust="spacingAndGlyphs" stroke-width="1.90" transform="rotate(0.70 231.9 373.6)">CROSS</text>
<text x="262.4" y="391.1" font-size="15.9" letter-spacing="0.3em" textLength="43.8" lengthAdjust="spacingAndGlyphs" stroke-width="2.09" transform="rotate(0.55 261.4 392.1)">BAR</text>
<text x="404.2" y="540.4" font-size="15.3" letter-spacing="0.3em" textLength="106.4" lengthAdjust="spacingAndGlyphs" stroke-width="2.09" transform="rotate(1.98 403.2 541.4)">WASHERS</text>
<text x="313.3" y="591.9" font-size="16.4" letter-spacing="0.35em" textLength="203.7" lengthAdjust="spacingAndGlyphs" stroke-width="2.28" transform="rotate(0.57 312.2 593.0)">BRAIDED WIRE</text>
<text x="345.3" y="609.5" font-size="15.9" letter-spacing="0.35em" textLength="145.8" lengthAdjust="spacingAndGlyphs" stroke-width="2.09" transform="rotate(0.48 344.3 610.5)">(FLEXIBLE)</text>
<text x="599.3" y="565.7" font-size="19.3" letter-spacing="0.3em" textLength="162.9" lengthAdjust="spacingAndGlyphs" stroke-width="2.66" transform="rotate(0.36 598.0 567.0)">WIND ON 30</text>
<text x="599.3" y="585.2" font-size="18.0" letter-spacing="0.3em" textLength="193.8" lengthAdjust="spacingAndGlyphs" stroke-width="2.66">TURNS OF #22</text>
<text x="600.3" y="603.2" font-size="16.6" letter-spacing="0.3em" textLength="177.3" lengthAdjust="spacingAndGlyphs" stroke-width="2.66" transform="rotate(0.49 599.0 604.5)">SINGLE&#160;&#160;&#160;SILK</text>
<text x="858.1" y="585.1" font-size="18.7" letter-spacing="0.3em" textLength="174.7" lengthAdjust="spacingAndGlyphs" stroke-width="2.66" transform="rotate(0.27 856.8 586.4)">WIND ON 25</text>
<text x="859.0" y="606.1" font-size="17.3" letter-spacing="0.3em" textLength="195.9" lengthAdjust="spacingAndGlyphs" stroke-width="2.66" transform="rotate(0.47 857.7 607.4)">TURNS OF # 22</text>
<text x="886.7" y="624.7" font-size="16.6" letter-spacing="0.3em" textLength="161.3" lengthAdjust="spacingAndGlyphs" stroke-width="2.66" transform="rotate(0.25 885.4 626.0)">SINGLE SILK</text>
<text x="668.5" y="530.5" font-size="22.1" letter-spacing="0em" textLength="15.5" lengthAdjust="spacingAndGlyphs" stroke-width="2.09">2</text>
<text x="866.1" y="560.0" font-size="24.2" letter-spacing="0em" textLength="20.8" lengthAdjust="spacingAndGlyphs" stroke-width="2.09">2</text>
<text x="576.7" y="349.0" font-size="25.1" textLength="15.2" lengthAdjust="spacingAndGlyphs" stroke-width="2.47" transform="rotate(-90 584.5 340)">5</text>
<text x="961.8" y="344.3" font-size="27.1" textLength="17.3" lengthAdjust="spacingAndGlyphs" stroke-width="2.47" transform="rotate(-90 970.6 334.5)">6</text>
<path d="M1094,156 L1516,178 L1513.5,205 L1093.5,181.5 Z" stroke-width="5"/>
<line x1="1095" y1="184" x2="1153.3" y2="291.6" stroke-width="4.5"/>
<line x1="1513" y1="205" x2="1454.8" y2="347" stroke-width="4.5"/>
<path d="M1168,279.4 L1173,224.4 L1241,230.5 L1244,236" stroke-width="4.5" fill="none"/>
<path d="M1366.4,246.4 L1367.5,235.7 L1452,241 L1439,321" stroke-width="4.5" fill="none"/>
<path d="M1407.0,273.0 C1410.6,272.1 1421.3,270.1 1428.5,267.8 C1435.7,265.5 1446.4,260.5 1450.0,259.0" stroke-width="4.5" fill="none" />
<path d="M1300.2,228.1 L1306.8,228.8 L1313.4,229.7 L1319.9,231.0 L1326.3,232.5 L1332.8,234.2 L1339.1,236.3 L1345.4,238.5 L1351.5,241.1 L1357.6,243.8 L1363.6,246.8 L1369.5,250.0 L1375.3,253.5 L1381.0,257.1 L1386.5,261.0 L1391.9,265.0 L1397.1,269.3 L1402.2,273.7 L1407.2,278.3 L1411.9,283.1 L1416.5,288.0 L1420.9,293.1 L1425.1,298.3 L1429.2,303.7 L1433.0,309.2 L1436.6,314.9 L1439.9,320.7 L1443.1,326.5 L1446.0,332.5 L1448.6,338.6 L1451.0,344.8 L1453.2,351.1 L1455.0,357.5 L1456.6,364.0 L1457.9,370.5 L1459.0,377.0 L1459.7,383.6 L1460.2,390.3 L1460.4,397.0 L1460.4,403.6 L1460.0,410.3 L1459.5,417.0 L1458.6,423.6 L1457.5,430.2 L1456.1,436.8 L1454.5,443.3 L1452.6,449.7 L1450.5,456.1 L1448.1,462.4 L1445.5,468.6 L1442.6,474.6 L1439.5,480.6 L1436.1,486.4 L1432.5,492.1 L1428.6,497.6 L1424.5,503.0 L1420.2,508.1 L1415.7,513.1 L1410.9,517.9 L1406.0,522.5 L1400.8,526.9 L1395.5,531.1 L1390.0,535.1 L1384.4,538.9 L1378.6,542.4 L1372.6,545.6 L1366.6,548.7 L1360.4,551.5 L1354.2,554.0 L1347.8,556.2 L1341.4,558.2 L1334.9,559.9 L1328.4,561.3 L1321.8,562.5 L1315.1,563.4 L1308.5,564.0 L1301.8,564.3 L1295.1,564.4 L1288.4,564.3 L1281.7,563.9 L1275.0,563.2 L1268.3,562.3 L1261.7,561.2 L1255.1,559.8 L1248.6,558.2 L1242.1,556.4 L1235.6,554.4 L1229.3,552.1 L1223.0,549.6 L1216.9,547.0 L1210.8,544.1 L1204.8,541.0 L1199.0,537.7 L1193.3,534.2 L1187.7,530.6 L1182.3,526.7 L1177.0,522.7 L1171.9,518.5 L1167.0,514.1 L1162.2,509.6 L1157.7,504.8 L1153.3,500.0 L1149.2,495.0 L1145.2,489.8 L1141.5,484.5 L1138.0,479.0 L1134.8,473.4 L1131.8,467.6 L1129.1,461.8 L1126.6,455.8 L1124.5,449.6 L1122.6,443.4 L1121.0,437.0 L1119.7,430.6 L1118.7,424.0 L1118.0,417.4 L1117.6,410.7 L1117.4,404.0 L1117.5,397.2 L1117.9,390.4 L1118.6,383.6 L1119.6,376.8 L1120.8,370.1 L1122.2,363.4 L1123.9,356.7 L1125.9,350.1 L1128.1,343.6 L1130.6,337.2 L1133.2,330.9 L1136.2,324.7 L1139.3,318.6 L1142.7,312.7 L1146.2,306.9 L1150.0,301.2 L1154.0,295.8 L1158.2,290.4 L1162.6,285.2 L1167.2,280.3 L1171.9,275.5 L1176.9,270.8 L1182.0,266.4 L1187.3,262.2 L1192.7,258.2 L1198.3,254.5 L1204.0,251.0 L1209.9,247.7 L1215.9,244.6 L1222.0,241.8 L1228.2,239.2 L1234.5,236.9 L1240.9,234.8 L1247.3,233.0 L1253.9,231.4 L1260.4,230.1 L1267.0,229.1 L1273.6,228.3 L1280.3,227.9 L1286.9,227.7 L1293.6,227.7 L1300.2,228.1Z" stroke-width="5.6" fill="none"/>
<path d="M1300.6,247.4 L1306.4,248.0 L1312.2,248.7 L1317.9,249.8 L1323.5,251.1 L1329.1,252.6 L1334.6,254.4 L1340.1,256.4 L1345.5,258.7 L1350.8,261.2 L1356.0,263.9 L1361.1,266.8 L1366.2,269.8 L1371.1,273.1 L1375.9,276.6 L1380.6,280.3 L1385.1,284.1 L1389.6,288.1 L1393.9,292.3 L1398.0,296.6 L1402.0,301.0 L1405.8,305.6 L1409.5,310.3 L1413.0,315.2 L1416.3,320.2 L1419.4,325.3 L1422.4,330.4 L1425.1,335.7 L1427.6,341.1 L1430.0,346.6 L1432.1,352.1 L1434.0,357.8 L1435.6,363.4 L1437.0,369.2 L1438.2,375.0 L1439.1,380.8 L1439.8,386.7 L1440.3,392.6 L1440.5,398.5 L1440.5,404.4 L1440.2,410.3 L1439.7,416.2 L1439.0,422.1 L1438.0,427.9 L1436.8,433.7 L1435.3,439.5 L1433.6,445.2 L1431.7,450.8 L1429.6,456.3 L1427.2,461.8 L1424.6,467.1 L1421.8,472.4 L1418.8,477.5 L1415.5,482.5 L1412.0,487.4 L1408.4,492.2 L1404.5,496.8 L1400.5,501.2 L1396.3,505.5 L1391.9,509.6 L1387.4,513.5 L1382.7,517.3 L1377.9,520.8 L1373.0,524.2 L1367.9,527.4 L1362.7,530.3 L1357.4,533.0 L1352.1,535.5 L1346.6,537.7 L1341.1,539.7 L1335.5,541.5 L1329.8,543.0 L1324.1,544.2 L1318.3,545.2 L1312.5,545.9 L1306.6,546.4 L1300.8,546.7 L1294.9,546.8 L1289.0,546.6 L1283.1,546.2 L1277.2,545.6 L1271.4,544.7 L1265.5,543.7 L1259.7,542.4 L1254.0,540.9 L1248.3,539.3 L1242.6,537.4 L1237.0,535.4 L1231.5,533.2 L1226.0,530.7 L1220.7,528.1 L1215.4,525.4 L1210.3,522.4 L1205.2,519.3 L1200.3,516.0 L1195.5,512.6 L1190.8,509.0 L1186.3,505.2 L1181.9,501.3 L1177.7,497.3 L1173.6,493.1 L1169.7,488.8 L1166.0,484.4 L1162.5,479.8 L1159.2,475.1 L1156.1,470.2 L1153.2,465.3 L1150.5,460.2 L1148.1,455.1 L1145.9,449.8 L1143.9,444.4 L1142.2,438.9 L1140.7,433.4 L1139.5,427.7 L1138.5,422.0 L1137.8,416.2 L1137.4,410.4 L1137.2,404.6 L1137.2,398.7 L1137.5,392.8 L1138.0,386.9 L1138.8,381.0 L1139.8,375.1 L1141.0,369.3 L1142.5,363.5 L1144.2,357.7 L1146.1,352.0 L1148.2,346.4 L1150.6,340.8 L1153.2,335.3 L1156.1,330.0 L1159.1,324.7 L1162.4,319.6 L1165.9,314.6 L1169.6,309.8 L1173.4,305.0 L1177.5,300.5 L1181.7,296.0 L1186.1,291.8 L1190.7,287.6 L1195.3,283.7 L1200.2,279.9 L1205.1,276.3 L1210.2,272.9 L1215.4,269.7 L1220.7,266.6 L1226.1,263.8 L1231.6,261.2 L1237.1,258.7 L1242.7,256.5 L1248.4,254.5 L1254.1,252.8 L1259.9,251.2 L1265.7,249.9 L1271.5,248.9 L1277.3,248.1 L1283.2,247.5 L1289.0,247.2 L1294.8,247.2 L1300.6,247.4Z" stroke-width="5.6" fill="none"/>
<path d="M1203.0,281.0 C1199.1,286.1 1185.2,298.9 1179.5,311.7 C1173.8,324.5 1171.2,342.9 1169.0,357.6 C1166.8,372.3 1165.3,384.3 1166.0,400.0 C1166.7,415.7 1170.1,437.2 1173.4,452.0 C1176.7,466.8 1181.0,478.5 1185.6,488.7 C1190.2,498.9 1196.3,507.6 1201.0,513.0 C1205.7,518.4 1211.8,519.7 1214.0,521.0" stroke-width="5.2" fill="none" />
<path d="M1394.0,300.0 C1396.6,303.3 1404.9,313.1 1409.5,320.0 C1414.1,326.9 1418.6,336.7 1421.7,341.7 C1424.8,346.7 1427.0,348.6 1428.0,350.0" stroke-width="4.5" fill="none" />
<path d="M1333.5,257.7 L1337.8,258.2 L1342.0,259.1 L1346.1,260.2 L1350.1,261.7 L1354.0,263.4 L1357.8,265.3 L1361.5,267.5 L1365.0,269.9 L1368.5,272.6 L1371.8,275.5 L1375.0,278.5 L1378.1,281.8 L1381.1,285.2 L1384.0,288.7 L1386.7,292.5 L1389.4,296.3 L1391.9,300.3 L1394.3,304.3 L1396.6,308.5 L1398.8,312.7 L1400.8,317.0 L1402.7,321.4 L1404.5,325.8 L1406.2,330.3 L1407.7,334.7 L1409.1,339.2 L1410.4,343.6 L1411.6,348.1 L1412.7,352.6 L1413.6,357.0 L1414.4,361.5 L1415.2,365.9 L1415.8,370.4 L1416.3,374.9 L1416.7,379.3 L1417.0,383.8 L1417.2,388.3 L1417.3,392.8 L1417.4,397.3 L1417.3,401.8 L1417.2,406.3 L1417.0,410.8 L1416.7,415.3 L1416.3,419.8 L1415.9,424.3 L1415.3,428.8 L1414.8,433.4 L1414.1,437.9 L1413.5,442.5 L1412.7,447.1 L1411.9,451.6 L1411.0,456.2 L1410.0,460.7 L1408.9,465.2 L1407.7,469.7 L1406.3,474.1 L1404.8,478.4 L1403.0,482.6 L1401.1,486.7 L1398.9,490.7 L1396.5,494.5 L1393.8,498.2 L1390.9,501.7 L1387.8,505.0 L1384.5,508.2 L1381.0,511.2 L1377.3,514.0 L1373.4,516.6 L1369.4,519.1 L1365.3,521.3 L1361.1,523.3 L1356.8,525.1 L1352.4,526.7 L1348.0,528.0 L1343.5,529.1 L1339.0,530.0 L1334.5,530.6 L1330.1,531.0 L1325.6,531.1 L1321.2,531.0 L1316.9,530.5 L1312.6,529.8 L1308.4,528.8 L1304.4,527.6 L1300.4,526.0 L1296.6,524.2 L1292.9,522.1 L1289.3,519.8 L1285.9,517.2 L1282.5,514.4 L1279.3,511.5 L1276.2,508.3 L1273.2,504.9 L1270.4,501.4 L1267.6,497.7 L1265.0,493.9 L1262.5,489.9 L1260.2,485.9 L1257.9,481.7 L1255.8,477.4 L1253.8,473.0 L1252.0,468.6 L1250.2,464.1 L1248.6,459.6 L1247.2,455.0 L1245.8,450.4 L1244.6,445.8 L1243.6,441.2 L1242.6,436.6 L1241.8,432.1 L1241.1,427.5 L1240.5,423.0 L1240.1,418.5 L1239.7,414.0 L1239.5,409.5 L1239.4,405.0 L1239.3,400.6 L1239.4,396.1 L1239.5,391.7 L1239.7,387.2 L1240.0,382.8 L1240.3,378.3 L1240.8,373.8 L1241.2,369.4 L1241.8,364.9 L1242.4,360.4 L1243.0,355.9 L1243.8,351.4 L1244.6,346.9 L1245.5,342.4 L1246.5,337.9 L1247.7,333.5 L1249.0,329.0 L1250.4,324.6 L1252.0,320.2 L1253.8,315.9 L1255.7,311.6 L1257.8,307.3 L1260.0,303.2 L1262.4,299.1 L1264.9,295.1 L1267.6,291.3 L1270.5,287.6 L1273.5,284.1 L1276.6,280.7 L1279.9,277.5 L1283.3,274.4 L1286.9,271.6 L1290.6,269.0 L1294.4,266.6 L1298.4,264.5 L1302.5,262.6 L1306.8,261.1 L1311.2,259.7 L1315.6,258.7 L1320.1,258.0 L1324.6,257.6 L1329.1,257.5 L1333.5,257.7Z" stroke-width="5.4" fill="none"/>
<path d="M1330.1,271.6 L1333.8,271.6 L1337.5,272.0 L1341.2,272.8 L1344.8,273.9 L1348.5,275.2 L1352.0,276.9 L1355.5,278.9 L1358.9,281.0 L1362.2,283.5 L1365.4,286.1 L1368.5,288.9 L1371.4,291.9 L1374.3,295.1 L1376.9,298.4 L1379.5,301.8 L1381.8,305.3 L1383.9,308.9 L1385.9,312.5 L1387.6,316.2 L1389.2,320.0 L1390.5,323.7 L1391.7,327.5 L1392.7,331.3 L1393.6,335.2 L1394.3,339.0 L1394.9,342.9 L1395.5,346.8 L1395.9,350.7 L1396.3,354.7 L1396.7,358.6 L1397.0,362.6 L1397.3,366.5 L1397.6,370.5 L1397.9,374.5 L1398.2,378.4 L1398.5,382.4 L1398.8,386.4 L1399.1,390.4 L1399.4,394.4 L1399.7,398.3 L1399.9,402.3 L1400.1,406.3 L1400.2,410.3 L1400.3,414.3 L1400.3,418.3 L1400.3,422.3 L1400.1,426.2 L1399.9,430.2 L1399.6,434.2 L1399.3,438.2 L1398.8,442.1 L1398.2,446.1 L1397.4,450.1 L1396.6,454.0 L1395.6,458.0 L1394.5,461.9 L1393.3,465.8 L1391.9,469.7 L1390.3,473.7 L1388.6,477.6 L1386.8,481.4 L1384.8,485.2 L1382.6,488.9 L1380.4,492.5 L1378.0,496.0 L1375.4,499.4 L1372.8,502.6 L1370.1,505.6 L1367.2,508.5 L1364.2,511.1 L1361.2,513.5 L1358.1,515.6 L1354.8,517.5 L1351.5,519.1 L1348.1,520.4 L1344.7,521.4 L1341.2,522.0 L1337.6,522.3 L1334.0,522.4 L1330.4,522.1 L1326.8,521.5 L1323.2,520.7 L1319.5,519.6 L1315.9,518.3 L1312.3,516.8 L1308.8,515.0 L1305.3,513.0 L1301.8,510.8 L1298.5,508.5 L1295.2,506.0 L1292.0,503.3 L1289.0,500.5 L1286.0,497.5 L1283.2,494.5 L1280.5,491.3 L1277.9,488.0 L1275.6,484.6 L1273.4,481.2 L1271.4,477.7 L1269.5,474.2 L1267.8,470.6 L1266.3,466.9 L1265.0,463.3 L1263.8,459.5 L1262.7,455.7 L1261.8,451.9 L1261.0,448.1 L1260.3,444.2 L1259.7,440.2 L1259.3,436.3 L1258.9,432.3 L1258.6,428.3 L1258.4,424.2 L1258.2,420.2 L1258.1,416.1 L1258.1,412.0 L1258.1,407.9 L1258.2,403.8 L1258.3,399.7 L1258.4,395.5 L1258.6,391.4 L1258.7,387.2 L1259.0,383.1 L1259.3,379.0 L1259.6,374.9 L1260.0,370.8 L1260.4,366.7 L1260.9,362.6 L1261.5,358.6 L1262.1,354.6 L1262.9,350.6 L1263.7,346.6 L1264.6,342.7 L1265.6,338.9 L1266.7,335.0 L1267.9,331.3 L1269.2,327.5 L1270.6,323.9 L1272.2,320.2 L1273.9,316.7 L1275.7,313.2 L1277.6,309.8 L1279.7,306.4 L1281.9,303.2 L1284.2,300.0 L1286.7,296.9 L1289.4,293.8 L1292.2,290.9 L1295.2,288.1 L1298.3,285.4 L1301.5,282.9 L1304.9,280.6 L1308.3,278.5 L1311.8,276.6 L1315.4,275.0 L1319.0,273.6 L1322.7,272.6 L1326.4,271.9 L1330.1,271.6Z" stroke-width="5.4" fill="none"/>
<path d="M1262,391 L1377,404.5 Q1382,410 1375,415.5 L1262,401" stroke-width="4.5" fill="#fff"/>
<path d="M1306.5,281.0 C1305.4,289.2 1302.4,311.8 1300.0,330.0 C1297.6,348.2 1293.3,380.0 1292.0,390.0" stroke-width="4.5" fill="none" />
<path d="M1288.7,404.0 C1287.9,411.7 1285.3,435.2 1284.0,450.0 C1282.7,464.8 1280.7,484.2 1281.0,492.7 C1281.3,501.2 1283.9,499.3 1286.0,501.0 C1288.1,502.7 1290.9,503.2 1293.6,503.0 C1296.3,502.8 1299.2,501.7 1302.0,500.0 C1304.8,498.3 1308.0,496.0 1310.7,492.7 C1313.4,489.4 1316.0,484.9 1318.0,480.0 C1320.0,475.1 1321.3,471.3 1323.0,463.0 C1324.7,454.7 1327.0,438.9 1328.0,430.0 C1329.0,421.1 1328.8,413.0 1329.0,409.6" stroke-width="4.5" fill="none" />
<path d="M1328.0,397.0 C1326.3,389.2 1321.7,365.3 1318.0,350.0 C1314.3,334.7 1308.0,312.5 1306.0,305.0" stroke-width="4.5" fill="none" />
<path d="M1293.0,292.0 C1291.5,300.0 1286.8,324.0 1284.0,340.0 C1281.2,356.0 1277.8,380.0 1276.5,388.0" stroke-width="4.5" fill="none" />
<path d="M1262.0,405.0 C1263.3,411.7 1267.0,432.3 1270.0,445.0 C1273.0,457.7 1278.3,475.0 1280.0,481.0" stroke-width="4" fill="none" />
<path d="M1276.0,407.0 C1276.3,414.2 1277.3,437.7 1278.0,450.0 C1278.7,462.3 1279.7,475.8 1280.0,481.0" stroke-width="4" fill="none" />
<line x1="1274" y1="332.5" x2="1286" y2="332.5" stroke-width="4"/>
<line x1="1300" y1="333" x2="1314" y2="334" stroke-width="4"/>
<path d="M1279.0,111.0 C1285.0,109.5 1303.2,102.8 1315.0,102.0 C1326.8,101.2 1341.0,103.9 1350.0,106.0 C1359.0,108.1 1365.8,113.3 1369.0,114.8" stroke-width="5" fill="none" />
<path d="M1279.0,111.0 C1278.8,114.5 1276.0,125.4 1278.0,132.0 C1280.0,138.6 1286.0,146.8 1291.0,150.5 C1296.0,154.2 1304.9,153.4 1307.7,154.0" stroke-width="5" fill="none" />
<path d="M1369.0,114.8 C1368.3,117.3 1366.5,125.3 1365.0,130.0 C1363.5,134.7 1362.2,139.7 1360.0,143.0 C1357.8,146.3 1356.2,148.5 1352.0,150.0 C1347.8,151.5 1337.8,151.7 1335.0,152.0" stroke-width="5" fill="none" />
<path d="M1282.0,126.7 C1287.5,125.9 1301.7,121.7 1315.0,122.0 C1328.3,122.3 1354.2,127.4 1362.0,128.5" stroke-width="5" fill="none" />
<path d="M1285.7,141.4 C1290.6,140.5 1304.0,135.7 1315.0,136.0 C1326.0,136.3 1345.6,141.8 1351.7,143.0" stroke-width="5" fill="none" />
<path d="M1307,166 L1309,154 Q1318,146 1327,152 L1328,168" stroke-width="4.5"/>
<path d="M1327.0,152.0 C1331.7,152.3 1346.6,151.2 1355.0,154.0 C1363.4,156.8 1373.7,166.5 1377.4,169.0" stroke-width="5" fill="none" />
<path d="M1331.0,160.0 C1335.8,160.3 1353.5,160.8 1360.0,162.0 C1366.5,163.2 1368.3,166.2 1370.0,167.0" stroke-width="3" fill="none" />
<ellipse cx="1477" cy="226" rx="6.5" ry="4.5" stroke-width="5" fill="#000" transform="rotate(-25 1477 226)"/>
<ellipse cx="1478" cy="225.5" rx="1.6" ry="1.2" fill="#fff" stroke="none"/>
<path d="M1470.0,230.0 C1468.4,232.0 1463.9,237.5 1460.6,242.0 C1457.3,246.5 1451.8,254.5 1450.0,257.0" stroke-width="6" fill="none" />
<ellipse cx="1466" cy="287" rx="6" ry="6" fill="#000" stroke-width="3"/>
<path d="M1466.0,287.0 C1465.1,288.4 1462.6,291.3 1460.6,295.6 C1458.6,299.9 1456.1,307.8 1454.0,312.8 C1451.9,317.8 1449.9,322.1 1447.8,325.6 C1445.7,329.1 1442.5,332.6 1441.4,334.0" stroke-width="6" fill="none" />
<path d="M1408,341 L1429,341.5 L1426,349 L1416,359 L1410,356 Z" fill="#000" stroke-width="0"/>
<path d="M1217.0,523.0 C1217.4,525.0 1218.9,528.7 1219.5,535.0 C1220.1,541.3 1218.6,554.2 1220.4,560.7 C1222.2,567.2 1225.5,571.2 1230.5,574.0 C1235.5,576.8 1247.3,576.9 1250.7,577.5" stroke-width="6" fill="none" />
<path d="M1250.7,577.5 C1251.6,579.2 1254.0,585.9 1256.0,588.0 C1258.0,590.1 1260.8,591.5 1263.0,590.0 C1265.2,588.5 1266.0,582.5 1269.0,579.0 C1272.0,575.5 1278.7,572.5 1281.0,569.0 C1283.3,565.5 1283.5,561.8 1283.0,558.0 C1282.5,554.2 1278.3,549.0 1278.0,546.0 C1277.7,543.0 1279.8,540.8 1281.0,540.0 C1282.2,539.2 1284.3,540.8 1285.0,541.0" stroke-width="6" fill="none" />
<path d="M1255.0,562.0 C1256.2,563.7 1259.8,569.3 1262.0,572.0 C1264.2,574.7 1267.0,577.0 1268.0,578.0" stroke-width="4" fill="none" />
<path d="M1268.0,540.0 C1269.2,541.3 1274.7,543.8 1275.0,548.0 C1275.3,552.2 1272.5,560.5 1270.0,565.0 C1267.5,569.5 1261.7,573.3 1260.0,575.0" stroke-width="4" fill="none" />
<path d="M1376.5,124.0 C1383.2,122.5 1410.2,116.3 1417.0,114.8" stroke-width="4" fill="none" />
<path d="M1527.0,197.4 C1534.3,196.2 1563.4,191.6 1570.7,190.4" stroke-width="4.5" fill="none" />
<path d="M1456.0,266.7 C1459.6,265.8 1470.4,262.8 1477.7,261.4 C1485.0,259.9 1488.2,257.4 1500.0,258.0 C1511.8,258.6 1540.5,263.6 1548.6,264.7" stroke-width="4" fill="none" />
<path d="M1300.8,380.5 C1304.0,378.4 1314.5,370.1 1320.0,367.8 C1325.5,365.5 1331.7,366.9 1334.0,366.7" stroke-width="3" fill="none" />
<path d="M1292.8,433.0 C1295.5,434.9 1302.3,442.0 1308.8,444.7 C1315.3,447.4 1327.9,448.3 1331.7,449.0" stroke-width="3" fill="none" />
<text x="1343.6" y="373.6" font-size="13.7" letter-spacing="0.3em" textLength="51.4" lengthAdjust="spacingAndGlyphs" stroke-width="1.14" transform="rotate(0.58 1343.0 374.2)">CROSS</text>
<text x="1354.2" y="390.3" font-size="14.8" letter-spacing="0.3em" textLength="34.1" lengthAdjust="spacingAndGlyphs" stroke-width="1.33" transform="rotate(1.78 1353.5 391.0)">BAR</text>
<text x="1339.3" y="455.8" font-size="14.1" letter-spacing="0.3em" textLength="51.5" lengthAdjust="spacingAndGlyphs" stroke-width="1.33" transform="rotate(2.16 1338.6 456.5)">SHAFT</text>
<text x="1427.5" y="120.9" font-size="16.4" letter-spacing="0.35em" textLength="76.9" lengthAdjust="spacingAndGlyphs" stroke-width="1.71" transform="rotate(1.58 1426.6 121.8)">KNOB</text>
<text x="1587.5" y="199.6" font-size="18.9" letter-spacing="0.25em" textLength="62.0" lengthAdjust="spacingAndGlyphs" stroke-width="1.90" transform="rotate(-1.47 1586.6 200.5)">TOP</text>
<text x="1554.3" y="281.6" font-size="16.4" letter-spacing="0.3em" textLength="91.4" lengthAdjust="spacingAndGlyphs" stroke-width="1.71" transform="rotate(0.64 1553.4 282.5)">WOODEN</text>
<text x="1499.7" y="304.9" font-size="17.1" letter-spacing="0.35em" textLength="128.3" lengthAdjust="spacingAndGlyphs" stroke-width="1.71" transform="rotate(1.47 1498.8 305.8)">BLOCK TO</text>
<text x="1497.3" y="329.7" font-size="17.1" letter-spacing="0.35em" textLength="181.1" lengthAdjust="spacingAndGlyphs" stroke-width="1.71" transform="rotate(1.58 1496.4 330.6)">SUPPORT THE</text>
<text x="1494.1" y="350.6" font-size="15.7" letter-spacing="0.35em" textLength="199.8" lengthAdjust="spacingAndGlyphs" stroke-width="1.71" transform="rotate(2.58 1493.2 351.5)">OUTSIDE COIL</text>
</g>
</svg>
</body></html>
